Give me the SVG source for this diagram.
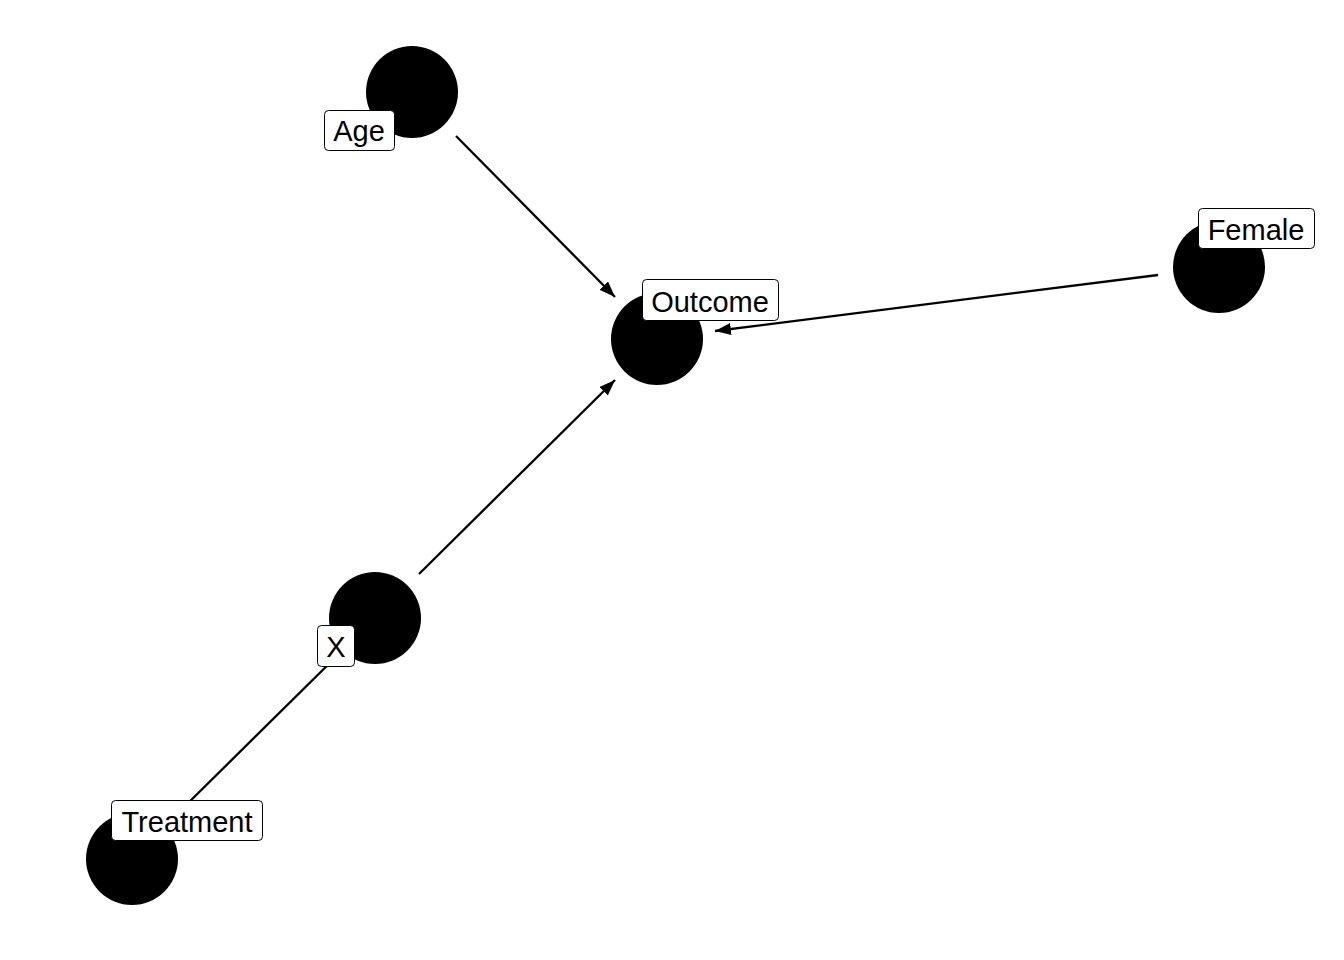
<svg xmlns="http://www.w3.org/2000/svg" width="1344" height="960" viewBox="0 0 1344 960">
<style>
.edge{stroke:#000;stroke-width:2.3;fill:none}
.node{fill:#000}
.lbl{fill:#fff;stroke:#000;stroke-width:1}
.txt{font-family:"Liberation Sans",Arial,sans-serif;font-size:29px;fill:#000;text-anchor:middle}
</style>
<defs>
<marker id="arr" viewBox="0 0 16 12" refX="16" refY="6" markerWidth="16" markerHeight="12" markerUnits="userSpaceOnUse" orient="auto">
<path d="M0,0 L16,6 L0,12 z" fill="#000"/>
</marker>
</defs>
<rect width="1344" height="960" fill="#fff"/>
<g id="connectors">
<line class="edge" x1="456" y1="136" x2="615" y2="297" marker-end="url(#arr)"/>
<line class="edge" x1="1158" y1="275" x2="715" y2="331" marker-end="url(#arr)"/>
<line class="edge" x1="419" y1="574" x2="615" y2="380" marker-end="url(#arr)"/>
<line class="edge" x1="176" y1="815" x2="343" y2="650" marker-end="url(#arr)"/>
</g>
<g id="node-age"><circle class="node" cx="412" cy="92" r="46"/></g>
<g id="node-outcome"><circle class="node" cx="657" cy="339" r="46"/></g>
<g id="node-female"><circle class="node" cx="1219" cy="267" r="46"/></g>
<g id="node-x"><circle class="node" cx="375" cy="618" r="46"/></g>
<g id="node-treatment"><circle class="node" cx="132" cy="859" r="46"/></g>
<g id="label-age"><rect class="lbl" x="324.5" y="110.5" width="70" height="40" rx="4"/><text class="txt" x="359" y="141">Age</text></g>
<g id="label-outcome"><rect class="lbl" x="642.5" y="279.5" width="136" height="41" rx="4"/><text class="txt" x="710" y="312">Outcome</text></g>
<g id="label-female"><rect class="lbl" x="1198.5" y="208.5" width="116" height="40" rx="4"/><text class="txt" x="1256" y="240">Female</text></g>
<g id="label-x"><rect class="lbl" x="317.5" y="625.5" width="37" height="41" rx="4"/><text class="txt" x="336" y="657">X</text></g>
<g id="label-treatment"><rect class="lbl" x="111.5" y="800.5" width="151" height="40" rx="4"/><text class="txt" x="187" y="832">Treatment</text></g>
</svg>
